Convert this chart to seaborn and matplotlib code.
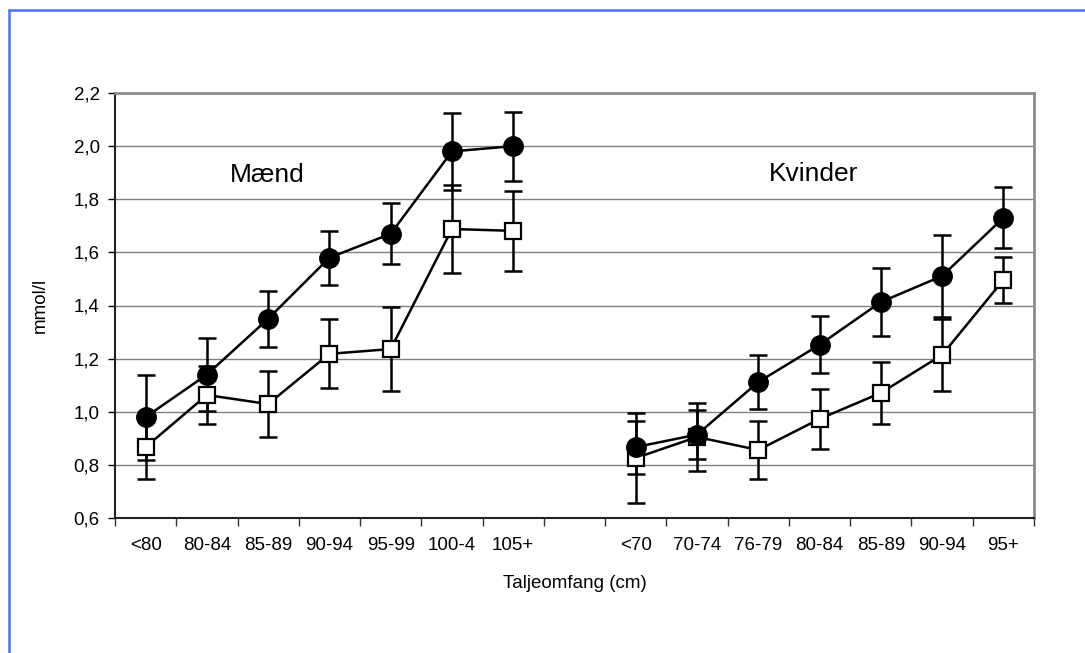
"""Triglyceride (mmol/l) by waist circumference, men and women."""

import matplotlib

matplotlib.use("Agg")

import matplotlib.pyplot as plt
import numpy as np
import pandas as pd
import seaborn as sns
from matplotlib.lines import Line2D
from matplotlib.ticker import FixedLocator, FuncFormatter

# Category labels per group (blank slot between the two groups).
MEN_CATS = ["<80", "80-84", "85-89", "90-94", "95-99", "100-4", "105+"]
WOMEN_CATS = ["<70", "70-74", "76-79", "80-84", "85-89", "90-94", "95+"]

# Filled circles
men_circle = [0.98, 1.14, 1.35, 1.58, 1.67, 1.98, 2.00]
men_circle_err = [0.16, 0.136, 0.105, 0.102, 0.115, 0.144, 0.13]
women_circle = [0.867, 0.914, 1.112, 1.252, 1.413, 1.511, 1.73]
women_circle_err = [0.10, 0.092, 0.102, 0.107, 0.127, 0.155, 0.115]

# Open squares
men_square = [0.867, 1.063, 1.029, 1.218, 1.236, 1.688, 1.681]
men_square_err = [0.12, 0.109, 0.125, 0.13, 0.157, 0.165, 0.151]
women_square = [0.826, 0.905, 0.856, 0.973, 1.071, 1.214, 1.496]
women_square_err = [0.17, 0.128, 0.11, 0.113, 0.117, 0.136, 0.085]

Y_TICKS = [0.6, 0.8, 1.0, 1.2, 1.4, 1.6, 1.8, 2.0, 2.2]


def build_frame() -> pd.DataFrame:
    rows = []
    groups = [
        ("Mænd", MEN_CATS, 0, men_circle, men_circle_err, men_square, men_square_err),
        ("Kvinder", WOMEN_CATS, len(MEN_CATS) + 1, women_circle, women_circle_err,
         women_square, women_square_err),
    ]
    for gname, cats, offset, c, ce, s, se in groups:
        for i, cat in enumerate(cats):
            pos = offset + i + 0.5
            rows.append({"group": gname, "cat": cat, "pos": pos, "series": "circle",
                         "value": c[i], "err": ce[i]})
            rows.append({"group": gname, "cat": cat, "pos": pos, "series": "square",
                         "value": s[i], "err": se[i]})
    return pd.DataFrame(rows)


def main() -> None:
    df = build_frame()
    sns.set_theme(style="white", rc={"text.color": "black", "axes.labelcolor": "black",
                                     "xtick.color": "black", "ytick.color": "black"})
    plt.rcParams["font.family"] = ["Liberation Sans", "DejaVu Sans"]

    fig = plt.figure(figsize=(10.85, 6.53), dpi=100)
    ax = fig.add_axes([115 / 1085, 1 - 518 / 653, (1034 - 115) / 1085, (518 - 93) / 653])

    styles = {
        "circle": dict(marker="o", markersize=14, markerfacecolor="black",
                       markeredgecolor="black", markeredgewidth=1),
        "square": dict(marker="s", markersize=11.5, markerfacecolor="white",
                       markeredgecolor="black", markeredgewidth=1.6),
    }

    for series in ["square", "circle"]:
        for gname in ["Mænd", "Kvinder"]:
            sub = df[(df["series"] == series) & (df["group"] == gname)]
            ax.errorbar(sub["pos"], sub["value"], yerr=sub["err"], fmt="none",
                        ecolor="black", elinewidth=1.8, capsize=6.5, capthick=1.8,
                        zorder=2)
            sns.lineplot(data=sub, x="pos", y="value", color="black", linewidth=1.8,
                         legend=False, ax=ax, zorder=3, **styles[series])

    n_slots = len(MEN_CATS) + 1 + len(WOMEN_CATS)
    ax.set_xlim(0, n_slots)
    ax.set_ylim(0.6, 2.2)

    # y axis
    ax.yaxis.set_major_locator(FixedLocator(Y_TICKS))
    ax.yaxis.set_major_formatter(FuncFormatter(lambda v, _: f"{v:.1f}".replace(".", ",")))
    ax.tick_params(axis="y", direction="out", length=5, width=1, color="black",
                   labelsize=13.5, pad=6, left=True)
    ax.grid(axis="y", color="#808080", linewidth=1)
    ax.set_axisbelow(True)

    # x axis: boundary ticks + centred labels
    ax.xaxis.set_major_locator(FixedLocator(np.arange(0, n_slots + 1)))
    ax.xaxis.set_major_formatter(FuncFormatter(lambda v, _: ""))
    labels = MEN_CATS + [""] + WOMEN_CATS
    ax.xaxis.set_minor_locator(FixedLocator(np.arange(n_slots) + 0.5))
    ax.xaxis.set_minor_formatter(FuncFormatter(lambda v, _: labels[int(v)]))
    ax.tick_params(axis="x", which="major", direction="out", length=6, width=1,
                   color="#333333", bottom=True)
    ax.tick_params(axis="x", which="minor", length=0, labelsize=13.5, pad=14)

    for side in ["left", "bottom"]:
        ax.spines[side].set_color("#222222")
        ax.spines[side].set_linewidth(1.5)
    for side in ["top", "right"]:
        ax.spines[side].set_color("#8c8c8c")
        ax.spines[side].set_linewidth(2)

    ax.set_xlabel("Taljeomfang (cm)", fontsize=13.5, labelpad=15)
    ax.set_ylabel("mmol/l", fontsize=13.5, labelpad=18)

    ax.text(2.48, 1.89, "Mænd", fontsize=19, ha="center", va="center")
    ax.text(11.41, 1.895, "Kvinder", fontsize=19, ha="center", va="center")

    # blue frame (left and top edges visible)
    blue = "#4f6fff"
    fig.add_artist(Line2D([8.5 / 1085, 8.5 / 1085], [0, 1 - 9.5 / 653],
                          transform=fig.transFigure, color=blue, linewidth=1.8))
    fig.add_artist(Line2D([8.5 / 1085, 1], [1 - 9.5 / 653, 1 - 9.5 / 653],
                          transform=fig.transFigure, color=blue, linewidth=1.8))

    fig.savefig("out.png", dpi=100, facecolor="white")
    plt.close(fig)


if __name__ == "__main__":
    main()
